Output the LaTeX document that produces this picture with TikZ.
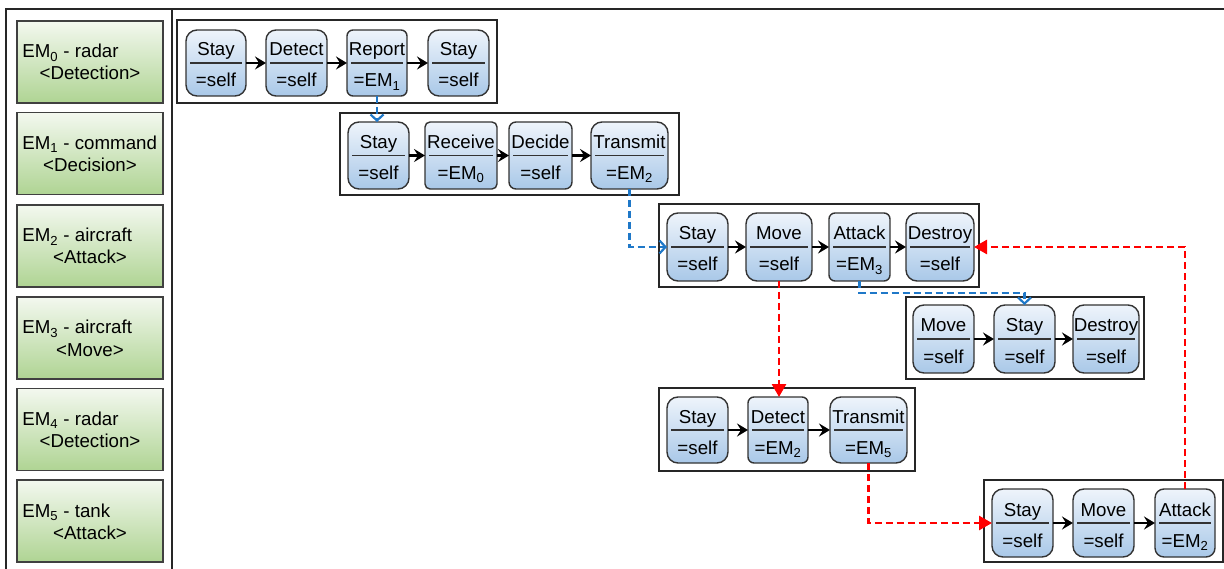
\documentclass[tikz,border=0pt]{standalone}
\usepackage{fontspec}
\setmainfont{Liberation Sans}
\usetikzlibrary{arrows.meta}
\definecolor{ntop}{HTML}{EEF4FB}
\definecolor{nbot}{HTML}{A9C8E8}
\definecolor{ndraw}{HTML}{333333}
\definecolor{gtop}{HTML}{F3F8EF}
\definecolor{gbot}{HTML}{AFD493}
\definecolor{gdraw}{HTML}{404040}
\definecolor{bluec}{HTML}{1F78C8}
\definecolor{redc}{HTML}{FF0000}
\tikzset{
  state/.style={draw=ndraw, line width=1.4pt, top color=ntop, bottom color=nbot, rounded corners=#1, inner sep=0pt, outer sep=0pt},
  state/.default=11pt,
  divline/.style={draw=ndraw, line width=1.3pt},
  lbl/.style={anchor=base, inner sep=0pt, font=\fontsize{18.7}{22}\selectfont},
  frame/.style={draw=black!85, line width=1.1pt, inner sep=0pt, outer sep=0pt},
  embox/.style={draw=gdraw, line width=1.5pt, top color=gtop, bottom color=gbot, inner sep=0pt, minimum width=146pt, minimum height=82pt},
  emtxt/.style={inner sep=0pt, font=\fontsize{18.7}{22}\selectfont},
  flow/.style={draw=black, line width=2.7pt, -{Stealth[length=11pt,width=13pt,inset=4pt]}},
  bluelink/.style={draw=bluec, line width=2.7pt, dash pattern=on 7pt off 4pt, -{Straight Barb[length=6pt,width=13pt,line width=2.2pt]}},
  redlink/.style={draw=redc, line width=2.7pt, dash pattern=on 7pt off 4pt, -{Triangle[length=13pt,width=14pt]}},
}
% #1 name, #2 corner radius, #3 x1, #4 y1, #5 x2, #6 y2, #7 top text, #8 bottom text
\newcommand\stnode[8]{%
  \node[state=#2, minimum width={#5-#3}, minimum height={#6-#4}] (#1) at ({(#3+#5)/2},{(#4+#6)/2}) {};
  \draw[divline] ([xshift=4pt]#1.west) -- ([xshift=-4pt]#1.east);
  \node[lbl] (#1t) at ([yshift=7pt]#1.center) {#7};
  \node[lbl] (#1b) at ([yshift=-24pt]#1.center) {#8};
}
% #1 name, #2 x1, #3 y1, #4 x2, #5 y2
\newcommand\grpframe[5]{%
  \node[frame, minimum width={#4-#2}, minimum height={#5-#3}] (#1) at ({(#2+#4)/2},{(#3+#5)/2}) {};
}
% #1 name, #2 center y, #3 line1, #4 line2
\newcommand\embox[4]{%
  \node[embox] (#1) at (90,#2) {};
  \node[emtxt, anchor=base west] (#1a) at ([xshift=6pt,yshift=4pt]#1.west) {#3};
  \node[emtxt, anchor=base] (#1b) at ([yshift=-18pt]#1.center) {#4};
}
\begin{document}
\begin{tikzpicture}[x=1pt,y=-1pt]
\useasboundingbox (0,0) rectangle (1224,569);
% outer frame and divider
\draw[line width=1.1pt, black!85] (6,569) -- (6,9) -- (1224,9);
\draw[line width=1.1pt, black!85] (172,9) -- (172,569);
% left column
\embox{em0}{62}{EM\textsubscript{0} - radar}{<Detection>}
\embox{em1}{153.5}{EM\textsubscript{1} - command}{<Decision>}
\embox{em2}{246}{EM\textsubscript{2} - aircraft}{<Attack>}
\embox{em3}{338}{EM\textsubscript{3} - aircraft}{<Move>}
\embox{em4}{429.5}{EM\textsubscript{4} - radar}{<Detection>}
\embox{em5}{521}{EM\textsubscript{5} - tank}{<Attack>}
% group frames
\grpframe{f0}{177}{20}{497}{103}
\grpframe{f1}{340}{113}{679}{195}
\grpframe{f2}{659}{204}{979}{287}
\grpframe{f3}{906}{297}{1144}{379}
\grpframe{f4}{659}{388}{915}{471}
\grpframe{f5}{984}{480}{1223}{562}
% group 0
\stnode{a1}{11pt}{186}{30}{246}{96}{Stay}{=self}
\stnode{a2}{10pt}{266}{30}{327}{96}{Detect}{=self}
\stnode{a3}{6pt}{347}{30}{407}{96}{Report}{=EM\textsubscript{1}}
\stnode{a4}{11pt}{428}{30}{489}{96}{Stay}{=self}
% group 1
\stnode{b1}{11pt}{348}{122}{409}{189}{Stay}{=self}
\stnode{b2}{5pt}{425}{122}{497}{189}{Receive}{=EM\textsubscript{0}}
\stnode{b3}{7pt}{509}{122}{572}{189}{Decide}{=self}
\stnode{b4}{11pt}{591}{122}{668}{189}{Transmit}{=EM\textsubscript{2}}
% group 2
\stnode{c1}{11pt}{667}{213}{728}{281}{Stay}{=self}
\stnode{c2}{11pt}{746}{213}{812}{281}{Move}{=self}
\stnode{c3}{6pt}{829}{213}{890}{281}{Attack}{=EM\textsubscript{3}}
\stnode{c4}{11pt}{906}{213}{974}{281}{Destroy}{=self}
% group 3
\stnode{d1}{11pt}{913}{305}{974}{373}{Move}{=self}
\stnode{d2}{11pt}{994}{305}{1055}{373}{Stay}{=self}
\stnode{d3}{11pt}{1073}{305}{1139}{373}{Destroy}{=self}
% group 4
\stnode{e1}{11pt}{667}{397}{728}{463}{Stay}{=self}
\stnode{e2}{6pt}{748}{397}{808}{463}{Detect}{=EM\textsubscript{2}}
\stnode{e3}{11pt}{830}{397}{907}{463}{Transmit}{=EM\textsubscript{5}}
% group 5
\stnode{g1}{11pt}{992}{489}{1053}{557}{Stay}{=self}
\stnode{g2}{11pt}{1073}{489}{1134}{557}{Move}{=self}
\stnode{g3}{9pt}{1155}{489}{1215}{557}{Attack}{=EM\textsubscript{2}}
% flows inside groups
\draw[flow] (a1) -- (a2);
\draw[flow] (a2) -- (a3);
\draw[flow] (a3) -- (a4);
\draw[flow] (b1) -- (b2);
\draw[flow] (b2) -- (b3);
\draw[flow] (b3) -- (b4);
\draw[flow] (c1) -- (c2);
\draw[flow] (c2) -- (c3);
\draw[flow] (c3) -- (c4);
\draw[flow] (d1) -- (d2);
\draw[flow] (d2) -- (d3);
\draw[flow] (e1) -- (e2);
\draw[flow] (e2) -- (e3);
\draw[flow] (g1) -- (g2);
\draw[flow] (g2) -- (g3);
% blue links
\draw[bluelink] (a3.south) -- (a3.south |- b1.north);
\draw[bluelink] (b4.south) |- (c1.west);
\draw[bluelink] (c3.south) -- ++(0,12) -| (d2.north);
% red links
\draw[redlink] (c2.south) -- (c2.south |- e2.north);
\draw[redlink] (e3.south) |- (g1.west);
\draw[redlink] (g3.north) |- (c4.east);
\end{tikzpicture}
\end{document}
